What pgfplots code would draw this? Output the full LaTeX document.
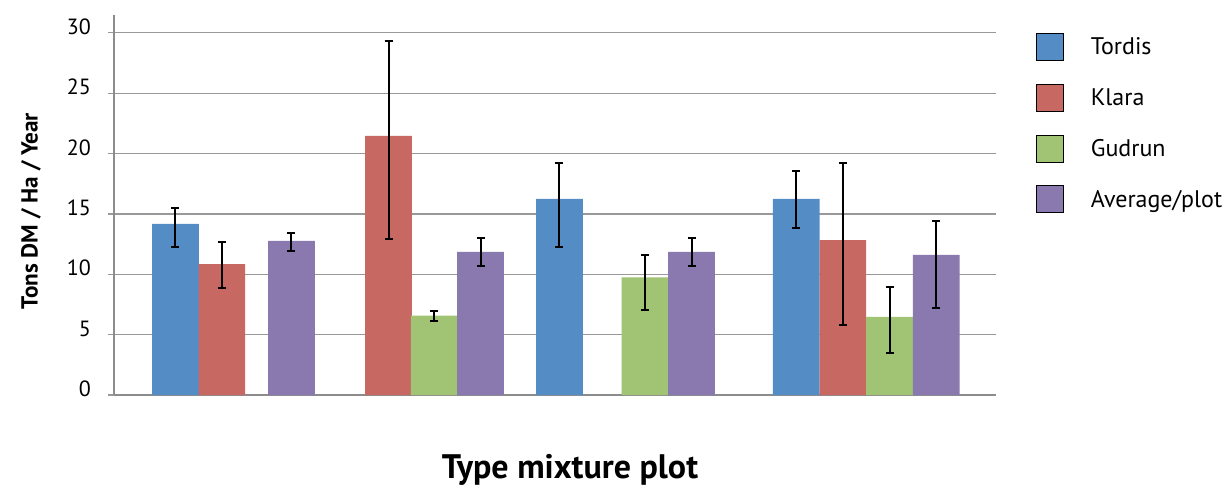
\documentclass[border=0pt]{standalone}
\usepackage{fontspec}
\setmainfont{PT Sans}
\usepackage{pgfplots}
\usepackage{pgfplotstable}
\pgfplotsset{compat=1.18}
\definecolor{tordis}{RGB}{84,141,197}
\definecolor{klara}{RGB}{200,104,98}
\definecolor{gudrun}{RGB}{161,195,116}
\definecolor{average}{RGB}{137,121,175}

\pgfplotstableread{
x y ep em
1.317 14.17 1.32 1.91
9.54 16.24 2.98 4.00
14.61 16.24 2.32 2.43
}\tabTordis
\pgfplotstableread{
x y ep em
2.31 10.85 1.85 2.00
5.88 21.46 7.89 8.51
15.61 12.84 6.38 7.02
}\tabKlara
\pgfplotstableread{
x y ep em
6.86 6.57 0.39 0.48
11.37 9.75 1.85 2.72
16.61 6.48 2.48 2.96
}\tabGudrun
\pgfplotstableread{
x y ep em
3.80 12.76 0.69 0.80
7.85 11.85 1.15 1.19
12.37 11.85 1.15 1.19
17.61 11.60 2.84 4.39
}\tabAverage

\pgfplotsset{
  legimg/.style={legend image code/.code={\fill[##1] (0pt,-6.35pt) rectangle (13.5pt,7.15pt);}},
  mybar/.style={ybar, bar width=1, bar shift=0pt, fill=#1, draw=none, forget plot,
    error bars/.cd, y dir=both, y explicit,
    error bar style={draw=black, line width=1pt},
    error mark options={rotate=90, draw=black, line width=1pt, mark size=2pt}},
}

\begin{document}
\begin{tikzpicture}
\begin{axis}[
  width=441pt, height=190pt, scale only axis,
  xmin=0, xmax=18.89, ymin=0, ymax=31.48,
  axis x line*=bottom, axis y line*=left,
  xtick=\empty, ytick={0,5,...,30},
  ymajorgrids, grid style={black!40, line width=0.6pt},
  axis line style={black!45, line width=0.7pt},
  tick align=outside, major tick length=3pt,
  tick style={black!40, line width=0.6pt},
  /pgf/number format/assume math mode=true,
  ticklabel style={font=\fontsize{11}{13}\selectfont},
  yticklabel style={yshift=3pt, xshift=-5pt},
  ylabel={Tons DM / Ha / Year},
  ylabel style={at={(axis description cs:-0.0941,0.484)}, anchor=center, font=\bfseries\fontsize{11.6}{13}\selectfont},
  xlabel={Type mixture plot},
  xlabel style={at={(axis description cs:0.517,-0.197)}, anchor=center, font=\bfseries\fontsize{17}{20}\selectfont},
  legend style={at={(1.0454,0.9526)}, anchor=north west, draw=none, fill=none,
    inner sep=0pt, outer sep=0pt,
    font=\fontsize{12}{14}\selectfont, row sep=11.5pt, nodes={inner sep=0pt, outer sep=0pt},
    /tikz/every odd column/.append style={column sep=13.5pt}},
  legend cell align=left,
]
\addplot[mybar=tordis] table[x=x, y=y, y error plus=ep, y error minus=em]{\tabTordis};
\addplot[mybar=klara] table[x=x, y=y, y error plus=ep, y error minus=em]{\tabKlara};
\addplot[mybar=gudrun] table[x=x, y=y, y error plus=ep, y error minus=em]{\tabGudrun};
\addplot[mybar=average] table[x=x, y=y, y error plus=ep, y error minus=em]{\tabAverage};
\addlegendimage{legimg, fill=tordis}
\addlegendentry{Tordis}
\addlegendimage{legimg, fill=klara}
\addlegendentry{Klara}
\addlegendimage{legimg, fill=gudrun}
\addlegendentry{Gudrun}
\addlegendimage{legimg, fill=average}
\addlegendentry{Average/plot}
\end{axis}
\pgfresetboundingbox
\path[use as bounding box] (-57pt,-47pt) rectangle (554.5pt,197.5pt);
\end{tikzpicture}
\end{document}
